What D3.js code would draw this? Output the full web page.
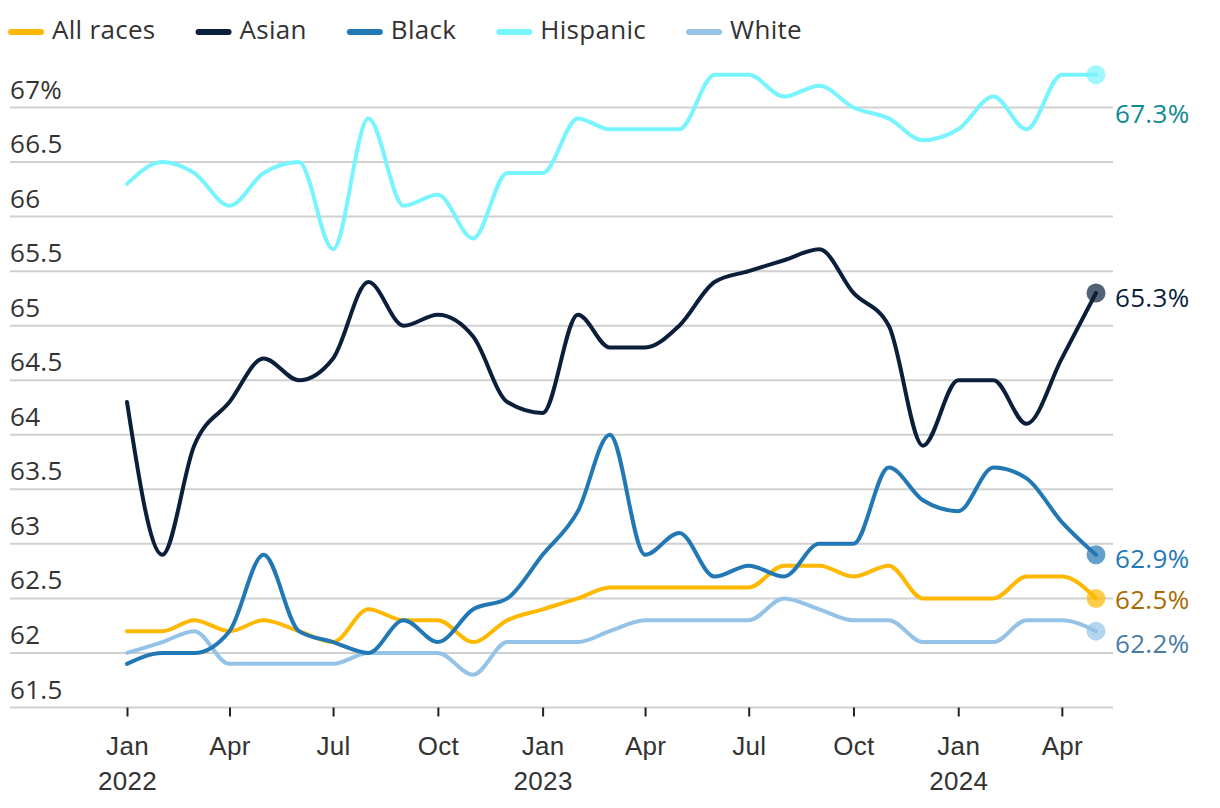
<!DOCTYPE html>
<html>
<head>
<meta charset="utf-8">
<script src="https://cdn.jsdelivr.net/npm/d3@7"></script>
<style>
  html, body { margin: 0; padding: 0; background: #fff; }
  svg { display: block; font-family: "Open Sans", sans-serif; letter-spacing: 0.3px; }
</style>
</head>
<body>
<svg id="chart" width="1220" height="808"></svg>
<script>
// ---- Data ----
const months = [
  "2022-01","2022-02","2022-03","2022-04","2022-05","2022-06","2022-07","2022-08","2022-09","2022-10","2022-11","2022-12",
  "2023-01","2023-02","2023-03","2023-04","2023-05","2023-06","2023-07","2023-08","2023-09","2023-10","2023-11","2023-12",
  "2024-01","2024-02","2024-03","2024-04","2024-05"
];
const seriesNames = ["All races", "Asian", "Black", "Hispanic", "White"];
const allRaces = [62.2,62.2,62.3,62.2,62.3,62.2,62.1,62.4,62.3,62.3,62.1,62.3, 62.4,62.5,62.6,62.6,62.6,62.6,62.6,62.8,62.8,62.7,62.8,62.5, 62.5,62.5,62.7,62.7,62.5];
const asian    = [64.3,62.9,63.9,64.3,64.7,64.5,64.7,65.4,65.0,65.1,64.9,64.3, 64.2,65.1,64.8,64.8,65.0,65.4,65.5,65.6,65.7,65.3,65.0,63.9, 64.5,64.5,64.1,64.7,65.3];
const black    = [61.9,62.0,62.0,62.2,62.9,62.2,62.1,62.0,62.3,62.1,62.4,62.5, 62.9,63.3,64.0,62.9,63.1,62.7,62.8,62.7,63.0,63.0,63.7,63.4, 63.3,63.7,63.6,63.2,62.9];
const hispanic = [66.3,66.5,66.4,66.1,66.4,66.5,65.7,66.9,66.1,66.2,65.8,66.4, 66.4,66.9,66.8,66.8,66.8,67.3,67.3,67.1,67.2,67.0,66.9,66.7, 66.8,67.1,66.8,67.3,67.3];
const white    = [62.0,62.1,62.2,61.9,61.9,61.9,61.9,62.0,62.0,62.0,61.8,62.1, 62.1,62.1,62.2,62.3,62.3,62.3,62.3,62.5,62.4,62.3,62.3,62.1, 62.1,62.1,62.3,62.3,62.2];
const yTicks = [61.5,62,62.5,63,63.5,64,64.5,65,65.5,66,66.5,67];
const xTickMonths = ["2022-01","2022-04","2022-07","2022-10","2023-01","2023-04","2023-07","2023-10","2024-01","2024-04"];

// ---- Styles ----
const colors = { "All races": "#ffb800", "Asian": "#0b1f3b", "Black": "#2178b4", "Hispanic": "#77f4fd", "White": "#94c3e7" };
const labelColors = { "All races": "#a86b00", "Asian": "#0b1f3b", "Black": "#2479b5", "Hispanic": "#0f8a94", "White": "#4a7da6" };
const labelDy = { "All races": 4, "Asian": 7, "Black": 6, "Hispanic": 41, "White": 15 };
const valuesBySeries = { "All races": allRaces, "Asian": asian, "Black": black, "Hispanic": hispanic, "White": white };

const parse = d3.timeParse("%Y-%m");
const dates = months.map(parse);

const svg = d3.select("#chart");
const x = d3.scaleTime().domain([dates[0], dates[dates.length - 1]]).range([127, 1096]);
const y = d3.scaleLinear().domain([61.5, 67]).range([707.5, 107.5]);
const gridLeft = 10, gridRight = 1113;
const fontSize = 26;
const textColor = "#333333";

// Gridlines + y labels
const yg = svg.append("g");
yg.selectAll("line").data(yTicks).join("line")
  .attr("x1", gridLeft).attr("x2", gridRight)
  .attr("y1", d => y(d)).attr("y2", d => y(d))
  .attr("stroke", "#d0d0d0").attr("stroke-width", 2);
yg.selectAll("text").data(yTicks).join("text")
  .attr("x", gridLeft).attr("y", d => y(d) - 9)
  .attr("font-size", fontSize).attr("fill", textColor)
  .text(d => d === 67 ? "67%" : d3.format("")(d));

// X axis
const xAxis = d3.axisBottom(x)
  .tickValues(xTickMonths.map(parse))
  .tickSize(9)
  .tickFormat("");
const xg = svg.append("g").attr("transform", `translate(0,${y(61.5)})`).call(xAxis);
xg.select(".domain").remove();
xg.selectAll(".tick line").attr("stroke", "#222").attr("stroke-width", 2);
xg.selectAll(".tick").each(function(d) {
  const t = d3.select(this);
  t.append("text").attr("y", 47).attr("text-anchor", "middle")
    .attr("font-size", fontSize).attr("fill", textColor)
    .text(d3.timeFormat("%b")(d));
  if (d.getMonth() === 0) {
    t.append("text").attr("y", 82).attr("text-anchor", "middle")
      .attr("font-size", fontSize).attr("fill", textColor)
      .text(d3.timeFormat("%Y")(d));
  }
});

// Lines
const line = d3.line()
  .x((d, i) => x(dates[i]))
  .y(d => y(d))
  .curve(d3.curveMonotoneX);

const drawOrder = ["White", "Hispanic", "All races", "Asian", "Black"];
const last = dates.length - 1;

// end dots (under lines)
svg.append("g").selectAll("circle").data(drawOrder).join("circle")
  .attr("cx", x(dates[last]))
  .attr("cy", s => y(valuesBySeries[s][last]))
  .attr("r", 9.5)
  .attr("fill", s => colors[s]).attr("fill-opacity", 0.7);

svg.append("g").selectAll("path").data(drawOrder).join("path")
  .attr("d", s => line(valuesBySeries[s]))
  .attr("fill", "none")
  .attr("stroke", s => colors[s])
  .attr("stroke-width", 4)
  .attr("stroke-linejoin", "round")
  .attr("stroke-linecap", "round");

// end labels
svg.append("g").selectAll("text").data(seriesNames).join("text")
  .attr("x", x(dates[last]) + 19)
  .attr("y", s => y(valuesBySeries[s][last]) + labelDy[s])
  .attr("dominant-baseline", "middle")
  .attr("font-size", fontSize)
  .attr("fill", s => labelColors[s])
  .text(s => d3.format(".1f")(valuesBySeries[s][last]) + "%");

// Legend
const legend = svg.append("g").attr("transform", "translate(11,32)");
let lx = 0;
seriesNames.forEach(s => {
  const g = legend.append("g").attr("transform", `translate(${lx},0)`);
  g.append("line").attr("x1", 0).attr("x2", 30).attr("y1", 0).attr("y2", 0)
    .attr("stroke", colors[s]).attr("stroke-width", 6).attr("stroke-linecap", "round");
  const t = g.append("text").attr("x", 41).attr("y", 0)
    .attr("dominant-baseline", "middle")
    .attr("font-size", fontSize).attr("fill", textColor).text(s);
  lx += 41 + t.node().getComputedTextLength() + 43;
});
</script>
</body>
</html>
